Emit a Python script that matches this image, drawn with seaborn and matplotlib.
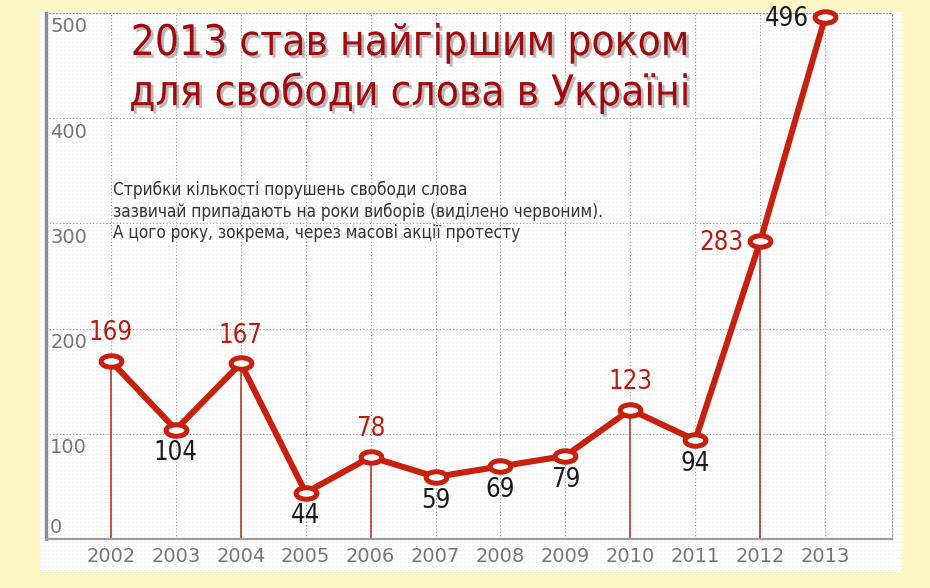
import numpy as np
import matplotlib
matplotlib.use("Agg")
import matplotlib.pyplot as plt
import seaborn as sns
from matplotlib import font_manager, patheffects as pe
from matplotlib.path import Path
from matplotlib.transforms import Affine2D, blended_transform_factory

# ---------------- data ----------------
years = [2002, 2003, 2004, 2005, 2006, 2007, 2008, 2009, 2010, 2011, 2012, 2013]
counts = [169, 104, 167, 44, 78, 59, 69, 79, 123, 94, 283, 496]
election_years = [2002, 2004, 2006, 2010, 2012]
y_ticks = [0, 100, 200, 300, 400, 500]
title_lines = ["2013 став найгіршим роком", "для свободи слова в Україні"]
note_lines = [
    "Стрибки кількості порушень свободи слова",
    "зазвичай припадають на роки виборів (виділено червоним).",
    "А цого року, зокрема, через масові акції протесту",
]

# ---------------- fonts ----------------
sns.set_theme(style="white")
plt.rcParams["font.family"] = ["DejaVu Sans"]


def pick_narrow():
    prefs = {"condensed": 0, "semi-condensed": 1, "extra-condensed": 2}
    best = None
    for f in font_manager.fontManager.ttflist:
        n, st = f.name, str(f.stretch)
        narrowish = ("Narrow" in n) or ("ondensed" in n) or ("condensed" in st)
        if not narrowish or f.style != "normal":
            continue
        if f.weight not in (400, "normal", "regular", "book"):
            continue
        rank = prefs.get(st, 0 if ("Narrow" in n or "ondensed" in n) else 3)
        if best is None or rank < best[0]:
            best = (rank, n, st)
    if best is None:
        return dict(family=["Roboto", "DejaVu Sans"])
    return dict(family=[best[1], "DejaVu Sans"], stretch=best[2])


NARROW = pick_narrow()

YELLOW = "#FCF6C4"
RED = "#C8200E"
RED_TXT = "#B81C10"
DARK_RED = "#9E0B0F"
GREY_TXT = "#777777"

W, H = 930, 588
fig = plt.figure(figsize=(W / 100, H / 100), dpi=100)
fig.patch.set_facecolor(YELLOW)
renderer = fig.canvas.get_renderer()


def fx(px):
    return px / W


def fy(py):
    return 1 - py / H


def fit_size(text, base, target_px, **kw):
    t = fig.text(0, 0, text, fontsize=base, **kw)
    w = t.get_window_extent(renderer=renderer).width
    t.remove()
    return min(base, base * target_px / w)


# white textured panel
bg = fig.add_axes([fx(40), fy(572), (902 - 40) / W, (572 - 12) / H], zorder=0)
bg.set_facecolor("white")
bg.set_xlim(0, 862)
bg.set_ylim(0, 560)
bg.set_xticks([])
bg.set_yticks([])
bg.set_yticks(np.arange(2, 560, 4), minor=True)
bg.tick_params(which="both", length=0, labelleft=False)
bg.grid(True, which="minor", axis="y", color="#dcdcdc", lw=0.72, ls=(0, (1, 3)))
for s in bg.spines.values():
    s.set_visible(False)

# main axes
ax = fig.add_axes([fx(46), fy(539), (892 - 46) / W, (539 - 13) / H], zorder=2)
ax.set_facecolor("none")
ax.set_xlim(2001, 2014.03)
ax.set_ylim(0, 500)

ax.set_xticks(years)
ax.set_xticklabels([str(y) for y in years], fontsize=14, color=GREY_TXT)
ax.set_yticks(y_ticks)
ax.set_yticklabels([])
ax.tick_params(axis="both", length=0)
ax.tick_params(axis="x", pad=6)
ax.grid(True, color="#999999", lw=0.8, ls=(0, (1, 2)))
ax.set_axisbelow(True)

ax.spines["left"].set_color("#8c8c8c")
ax.spines["left"].set_linewidth(2.4)
ax.spines["bottom"].set_color("#9c9c9c")
ax.spines["bottom"].set_linewidth(1.6)
for side in ("top", "right"):
    ax.spines[side].set_color("#999999")
    ax.spines[side].set_linewidth(0.8)
    ax.spines[side].set_linestyle((0, (1, 2)))

# y labels inside the axes, just below their gridline (the zero label sits above the axis)
ytr = blended_transform_factory(ax.transAxes, ax.transData)
for t in y_ticks:
    dy = 8 if t == y_ticks[0] else -10
    ax.annotate(str(t), (0, t), xycoords=ytr, xytext=(3, dy),
                textcoords="offset points", ha="left", va="center",
                fontsize=14, color=GREY_TXT)

# election-year drop lines
elect_vals = [counts[years.index(y)] for y in election_years]
ax.vlines(election_years, 0, elect_vals, color="#B02A1E", lw=1.1, zorder=2)

# line with elliptical markers
uc = Path.unit_circle()
ellipse = Path(Affine2D().scale(1, 0.55).transform(uc.vertices), uc.codes)
sns.lineplot(x=years, y=counts, ax=ax, color=RED, lw=4.4, marker=ellipse,
             markersize=15, markerfacecolor="white", markeredgecolor=RED,
             markeredgewidth=3.6, zorder=5, clip_on=False, legend=False)

# value labels
lab_size = fit_size("104", 22, 44, **NARROW)
for yr, v in zip(years, counts):
    red = yr in election_years
    col = RED_TXT if red else "#1a1a1a"
    if v > 250:
        off, ha = (-12, -1), "right"
    elif red:
        off, ha = (0, 20), "center"
    else:
        off, ha = (0, -17), "center"
    ax.annotate(str(v), (yr, v), xytext=off, textcoords="offset points",
                ha=ha, va="center", fontsize=lab_size, color=col, zorder=6,
                annotation_clip=False, **NARROW)

# title with shadow
title_size = fit_size(title_lines[0], 40, 558, **NARROW)
shadow = [pe.SimplePatchShadow(offset=(2, -2), shadow_rgbFace="#555555", alpha=0.4),
          pe.Normal()]
for line, py in zip(title_lines, [43, 93]):
    fig.text(fx(409), fy(py), line, ha="center", va="center", fontsize=title_size,
             color=DARK_RED, path_effects=shadow, zorder=10, **NARROW)

# note
note_size = fit_size(note_lines[1], 13, 490, **NARROW)
for line, py in zip(note_lines, [190, 211.5, 233]):
    fig.text(fx(113), fy(py), line, ha="left", va="center", fontsize=note_size,
             color="#333333", zorder=10, **NARROW)

fig.savefig("out.png", dpi=100, facecolor=YELLOW)
